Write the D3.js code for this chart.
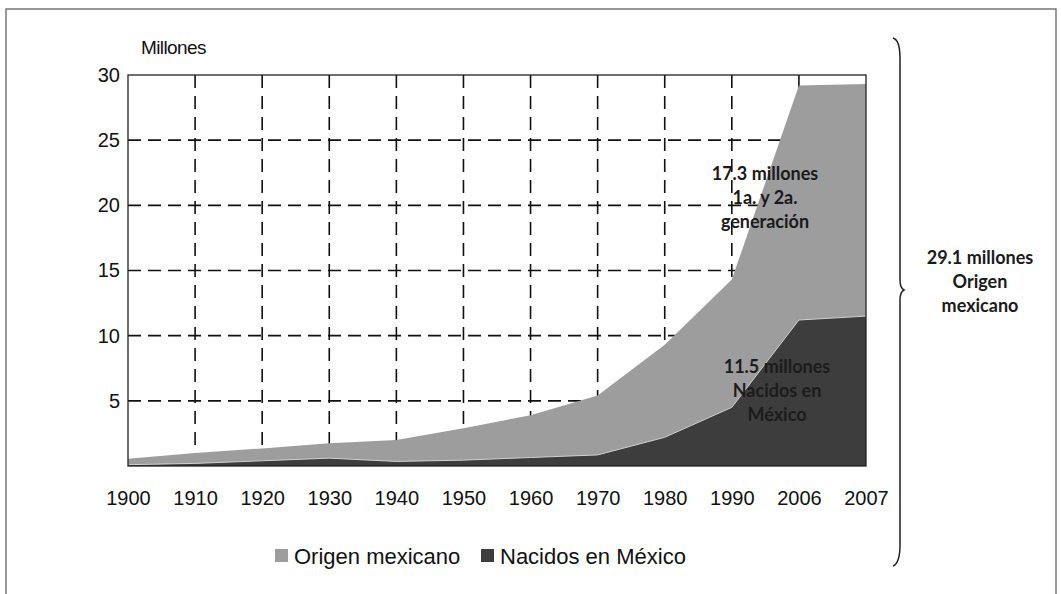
<!DOCTYPE html>
<html>
<head>
<meta charset="utf-8">
<script src="https://d3js.org/d3.v7.min.js"></script>
<style>
  body { margin: 0; background: #fff; }
  .tick text { font-family: "Liberation Sans", Arial, sans-serif; font-size: 20px; fill: #111; }
  .note { font-family: Lato, "Open Sans", sans-serif; font-weight: bold; font-size: 18px; }
</style>
</head>
<body>
<svg width="1061" height="594"></svg>
<script>
// values in millions
var years = ["1900","1910","1920","1930","1940","1950","1960","1970","1980","1990","2006","2007"];
var origenMexicano = [0.55, 1.0, 1.35, 1.75, 2.0, 2.9, 3.9, 5.4, 9.3, 14.3, 29.2, 29.3];
var nacidosMexico  = [0.1, 0.2, 0.4, 0.6, 0.35, 0.45, 0.65, 0.85, 2.2, 4.5, 11.2, 11.5];
var yTicks = [5, 10, 15, 20, 25, 30];
var seriesNames = ["Origen mexicano", "Nacidos en México"];
var colors = ["#9d9d9d", "#3d3d3d"];

var svg = d3.select("svg");

// outer frame
svg.append("rect")
  .attr("x", 6).attr("y", 9).attr("width", 1050).attr("height", 600)
  .attr("fill", "none").attr("stroke", "#555").attr("stroke-width", 1.2);

var x = d3.scalePoint().domain(years).range([128, 866]);
var y = d3.scaleLinear().domain([0, 30]).range([466, 75]);

// grid
var g = svg.append("g");
g.selectAll(".hgrid")
  .data(yTicks.filter(function(d) { return d < 30; }))
  .enter().append("line")
    .attr("x1", 128).attr("x2", 866)
    .attr("y1", function(d) { return y(d); })
    .attr("y2", function(d) { return y(d); })
    .attr("stroke", "#111").attr("stroke-width", 1.6)
    .attr("stroke-dasharray", "13,7");
g.selectAll(".vgrid")
  .data(years.slice(1, years.length - 1))
  .enter().append("line")
    .attr("x1", function(d) { return x(d); })
    .attr("x2", function(d) { return x(d); })
    .attr("y1", y(30)).attr("y2", y(0))
    .attr("stroke", "#111").attr("stroke-width", 1.6)
    .attr("stroke-dasharray", "13,8");

// areas
var area = function(vals) {
  return d3.area()
    .x(function(d, i) { return x(years[i]); })
    .y0(y(0))
    .y1(function(d) { return y(d); })(vals);
};
svg.append("path").attr("d", area(origenMexicano)).attr("fill", colors[0]);
svg.append("path").attr("d", area(nacidosMexico)).attr("fill", colors[1]);
svg.append("path")
  .attr("d", d3.line()
    .x(function(d, i) { return x(years[i]); })
    .y(function(d) { return y(d); })(nacidosMexico))
  .attr("fill", "none").attr("stroke", "#d0d0d0").attr("stroke-width", 1);

// plot border
svg.append("rect")
  .attr("x", 128).attr("y", y(30)).attr("width", 866 - 128).attr("height", y(0) - y(30))
  .attr("fill", "none").attr("stroke", "#222").attr("stroke-width", 1.3);

// axes
svg.append("g")
  .attr("transform", "translate(0," + y(0) + ")")
  .call(d3.axisBottom(x).tickSize(0).tickPadding(25))
  .call(function(a) { a.select(".domain").remove(); });
svg.append("g")
  .attr("transform", "translate(128,0)")
  .call(d3.axisLeft(y).tickValues(yTicks).tickSize(0).tickPadding(8))
  .call(function(a) { a.select(".domain").remove(); });

svg.append("text")
  .attr("x", 141).attr("y", 54)
  .attr("font-family", "Liberation Sans, Arial, sans-serif")
  .attr("font-size", 19).attr("letter-spacing", -0.6).attr("fill", "#111")
  .text("Millones");

// annotations
function note(lines, cx, y0, fill) {
  var t = svg.append("text").attr("class", "note").attr("text-anchor", "middle").attr("fill", fill);
  lines.forEach(function(s, i) {
    t.append("tspan").attr("x", cx).attr("y", y0 + i * 24).text(s);
  });
}
note(["17.3 millones", "1a. y 2a.", "generación"], 765, 180, "#1a1a1a");
note(["11.5 millones", "Nacidos en", "México"], 777, 373, "#1c1c1c");
note(["29.1 millones", "Origen", "mexicano"], 980, 264, "#1a1a1a");

// brace
svg.append("path")
  .attr("d", "M893,38 Q900,40 900,58 L900,280 Q900,288 904,290 Q900,292 900,300 L900,545 Q900,563 893,566")
  .attr("fill", "none").attr("stroke", "#222").attr("stroke-width", 1.5);

// legend
var leg = svg.append("g").attr("transform", "translate(0,556)");
var lx = [275, 481];
seriesNames.forEach(function(name, i) {
  leg.append("rect").attr("x", lx[i]).attr("y", -7).attr("width", 13).attr("height", 13).attr("fill", colors[i]);
  leg.append("text").attr("x", lx[i] + 19).attr("y", 0).attr("dy", "0.35em")
    .attr("font-family", "Liberation Sans, Arial, sans-serif").attr("font-size", 22).attr("fill", "#111")
    .text(name);
});
</script>
</body>
</html>
